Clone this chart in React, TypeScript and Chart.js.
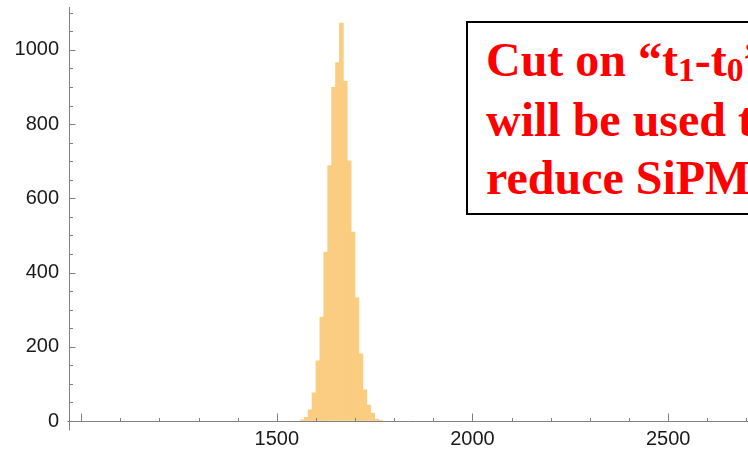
import React, { useEffect, useRef } from 'react';
import { Chart, registerables } from 'chart.js';

Chart.register(...registerables);

// Histogram bins (left edges) and counts
const binStarts = [1560, 1570, 1580, 1590, 1600, 1610, 1620, 1630, 1640, 1650, 1660, 1670, 1680, 1690, 1700, 1710, 1720, 1730, 1740, 1750, 1760];
const binWidth = 10;
const counts = [3, 10, 30, 76, 162, 280, 455, 688, 899, 966, 1072, 915, 701, 509, 332, 181, 84, 43, 21, 5, 1];

// Axis ticks
const xLabelTicks = [1500, 2000, 2500];
const xMajorTicks = [1000, 1500, 2000, 2500];
const xMinorTicks = [1000, 1100, 1200, 1300, 1400, 1500, 1600, 1700, 1800, 1900, 2000, 2100, 2200, 2300, 2400, 2500, 2600, 2700];
const yLabelTicks = [0, 200, 400, 600, 800, 1000];
const yMinorTicks = [0, 50, 100, 150, 200, 250, 300, 350, 400, 450, 500, 550, 600, 650, 700, 750, 800, 850, 900, 950, 1000, 1050, 1100];

const xMin = 969;
const xMax = 2704;
const yMin = 0;
const yMax = 1102;

// Annotation text lines
const noteLine1 = ['Cut on “t', '1', '-t', '0', '”'];
const noteLine2 = 'will be used to';
const noteLine3 = 'reduce SiPM';

const barColor = 'rgb(250, 205, 128)';
const axisColor = '#808080';
const labelColor = '#1a1a1a';

const axesPlugin = {
  id: 'mmaAxes',
  afterDatasetsDraw(chart: any) {
    const { ctx, chartArea, scales } = chart;
    const xs = scales.x;
    const ys = scales.y;
    const snap = (v: number) => Math.round(v) + 0.5;
    const y0 = snap(ys.getPixelForValue(0));
    const x0 = snap(chartArea.left);
    ctx.save();
    ctx.strokeStyle = axisColor;
    ctx.lineWidth = 1;
    ctx.beginPath();
    // x axis line
    ctx.moveTo(x0 - 2, y0);
    ctx.lineTo(chartArea.right + 2, y0);
    // y axis line
    ctx.moveTo(x0, chartArea.top - 5);
    ctx.lineTo(x0, y0 + 9);
    // x ticks (pointing up)
    xMinorTicks.forEach((v) => {
      const px = snap(xs.getPixelForValue(v));
      const len = xMajorTicks.includes(v) ? 8 : 3.5;
      ctx.moveTo(px, y0);
      ctx.lineTo(px, y0 - len);
    });
    // y ticks (pointing right)
    yMinorTicks.forEach((v) => {
      const py = snap(ys.getPixelForValue(v));
      const len = yLabelTicks.includes(v) ? 6 : 3.5;
      ctx.moveTo(x0, py);
      ctx.lineTo(x0 + len, py);
    });
    ctx.stroke();
    ctx.restore();
  },
};

export default function App() {
  const canvasRef = useRef<HTMLCanvasElement | null>(null);

  useEffect(() => {
    if (!canvasRef.current) return;
    const data = binStarts.map((s, i) => ({ x: s + binWidth / 2, y: counts[i] }));
    const tickFont = { family: '"Liberation Sans", Arial, sans-serif', size: 20 };
    const chart = new Chart(canvasRef.current, {
      type: 'bar',
      data: {
        datasets: [
          {
            data: data as any,
            backgroundColor: barColor,
            borderWidth: 0,
            barPercentage: 1,
            categoryPercentage: 1,
          },
        ],
      },
      options: {
        animation: false,
        responsive: false,
        devicePixelRatio: 1,
        layout: { padding: 0 },
        plugins: { legend: { display: false }, tooltip: { enabled: false } },
        scales: {
          x: {
            type: 'linear',
            min: xMin,
            max: xMax,
            offset: false,
            afterBuildTicks: (s: any) => {
              s.ticks = xLabelTicks.map((v) => ({ value: v }));
            },
            afterFit: (s: any) => {
              s.height = 32;
            },
            grid: {
              display: true,
              offset: false,
              drawOnChartArea: false,
              drawTicks: true,
              tickLength: 6,
              color: 'rgba(0,0,0,0)',
            },
            border: { display: false },
            ticks: {
              padding: 0,
              autoSkip: false,
              maxRotation: 0,
              font: tickFont,
              color: labelColor,
              callback: (v: any) => String(v),
            },
          },
          y: {
            type: 'linear',
            min: yMin,
            max: yMax,
            afterBuildTicks: (s: any) => {
              s.ticks = yLabelTicks.map((v) => ({ value: v }));
            },
            afterFit: (s: any) => {
              s.width = 69;
            },
            grid: {
              display: true,
              drawOnChartArea: false,
              drawTicks: true,
              tickLength: 10,
              color: 'rgba(0,0,0,0)',
            },
            border: { display: false },
            ticks: {
              padding: 0,
              font: tickFont,
              color: labelColor,
              callback: (v: any) => String(v),
            },
          },
        },
      } as any,
      plugins: [axesPlugin],
    });
    return () => chart.destroy();
  }, []);

  const lineStyle: React.CSSProperties = {
    position: 'absolute',
    left: 486,
    whiteSpace: 'nowrap',
    fontFamily: '"Liberation Serif", "Times New Roman", serif',
    fontWeight: 'bold',
    fontSize: 48,
    lineHeight: '48px',
    color: '#ff0000',
  };
  const subStyle: React.CSSProperties = {
    fontSize: '0.7em',
    position: 'relative',
    top: '0.16em',
    verticalAlign: 'baseline',
  };

  return (
    <div
      style={{
        position: 'fixed',
        left: 0,
        top: 0,
        width: 748,
        height: 453,
        overflow: 'hidden',
        background: '#ffffff',
      }}
    >
      <canvas ref={canvasRef} width={748} height={453} style={{ position: 'absolute', left: 0, top: 0 }} />
      <div
        style={{
          position: 'absolute',
          left: 466,
          top: 21,
          width: 400,
          height: 194,
          border: '2px solid #000',
          boxSizing: 'border-box',
          background: '#ffffff',
        }}
      />
      <div style={{ ...lineStyle, top: 36 }}>
        {noteLine1[0]}
        <span style={subStyle}>{noteLine1[1]}</span>
        {noteLine1[2]}
        <span style={subStyle}>{noteLine1[3]}</span>
        {noteLine1[4]}
      </div>
      <div style={{ ...lineStyle, top: 96 }}>{noteLine2}</div>
      <div style={{ ...lineStyle, top: 154 }}>{noteLine3}</div>
    </div>
  );
}
